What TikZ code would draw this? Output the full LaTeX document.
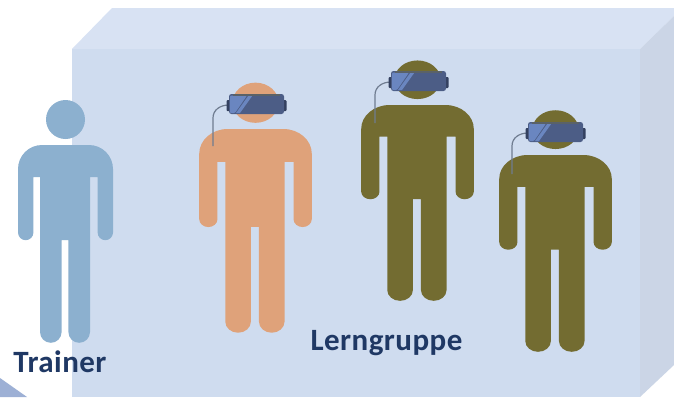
\documentclass[tikz,border=0pt]{standalone}
\usepackage{fontspec}
\setmainfont{Carlito}[LetterSpace=1.5]
\definecolor{frontc}{HTML}{CFDCEF}
\definecolor{topc}{HTML}{D8E2F3}
\definecolor{sidec}{HTML}{CBD5E6}
\definecolor{cornerc}{HTML}{9DB0D5}
\definecolor{trainerc}{HTML}{8CB0CF}
\definecolor{orangec}{HTML}{DFA27A}
\definecolor{olivec}{HTML}{736C31}
\definecolor{navyc}{HTML}{1F3864}
\definecolor{visord}{HTML}{4C5D86}
\definecolor{visorl}{HTML}{6A86C0}
\definecolor{knobc}{HTML}{33405F}
\definecolor{cablec}{HTML}{6F7C90}
\tikzset{
  lbl/.style={font=\bfseries\fontsize{31}{34}\selectfont,text=navyc,inner sep=0pt,anchor=base},
}
\newcommand{\figperson}[5]{%
 \begin{scope}[shift={(#1,#2)},xscale=#3,yscale=#4]
  \fill[#5] (0,-25.5) circle[radius=19.5];
  \fill[#5] (-47.5,24) arc[start angle=180,end angle=270,radius=24] -- (23.5,0)
    arc[start angle=270,end angle=360,radius=24] -- (47.5,87.5)
    arc[start angle=0,end angle=180,radius=7.7] -- (32.1,32) -- (24.5,32) -- (24.5,187)
    arc[start angle=0,end angle=180,radius=10.8] -- (2.9,95) -- (-3.9,95) -- (-3.9,187)
    arc[start angle=0,end angle=180,radius=10.8] -- (-25.5,32) -- (-32.1,32) -- (-32.1,87.5)
    arc[start angle=0,end angle=180,radius=7.7] -- cycle;
 \end{scope}}
\newcommand{\figvisor}[2]{%
 \begin{scope}[shift={(#1,#2)}]
  \draw[cablec,line width=1.2pt] (-16,52) -- (-16,24) .. controls (-16,16) and (-9,11) .. (0,11);
  \fill[knobc,rounded corners=1pt] (-2.5,6) rectangle (2,17);
  \fill[knobc,rounded corners=1pt] (52,6) rectangle (57.5,17);
  \fill[visord,rounded corners=2.5pt] (0,0) rectangle (55,20);
  \fill[visorl,rounded corners=1pt] (1,1.5) -- (18,1.5) -- (6,19) -- (1,19) -- cycle;
  \fill[visorl] (19.5,1.5) -- (23.5,1.5) -- (11,19) -- (7,19) -- cycle;
  \fill[olivec!35!visord] (4,0) rectangle (51,1.5);
 \end{scope}}
\begin{document}
\begin{tikzpicture}[x=1pt,y=-1pt]
 \useasboundingbox (0,0) rectangle (674,397);
 \fill[white] (0,0) rectangle (674,397);
 \fill[topc] (72,49) -- (112,8) -- (674,8) -- (674,16) -- (640,49) -- cycle;
 \fill[sidec] (640,49) -- (674,16) -- (674,365) -- (640,397) -- cycle;
 \fill[frontc] (72,49) rectangle (640,397);
 \fill[cornerc] (0,378) -- (27,397) -- (0,397) -- cycle;
 \figperson{65.5}{145}{1}{1}{trainerc}
 \figperson{255.5}{129}{1.185}{1.03}{orangec}
 \figperson{417.5}{105}{1.185}{0.99}{olivec}
 \figperson{555.5}{155}{1.185}{0.995}{olivec}
 \figvisor{229}{94}
 \figvisor{391}{71}
 \figvisor{528}{122}
 \node[lbl] (trainer) at (60,372) {Trainer};
 \node[lbl] (lern) at (386.5,350) {Lerngruppe};
\end{tikzpicture}
\end{document}
